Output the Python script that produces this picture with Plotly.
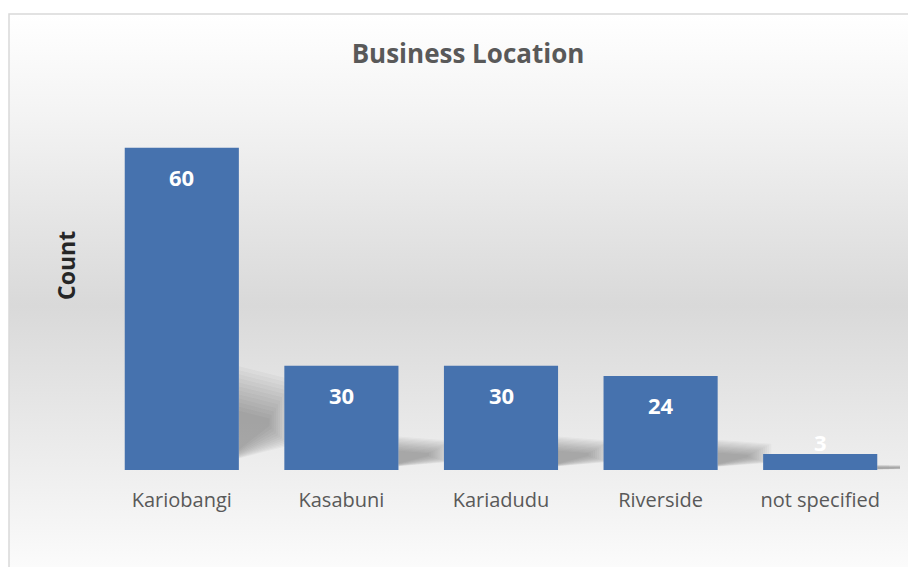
import base64
import plotly.graph_objects as go

# ---- data ----
categories = ["Kariobangi", "Kasabuni", "Kariadudu", "Riverside", "not specified"]
bar_heights = [60, 19.4, 19.4, 17.5, 3]          # heights as drawn
label_text = ["60", "30", "30", "24", "3"]        # data labels as printed
chart_title = "Business Location"
y_title = "Count"

OFF = 8                      # page offset of the figure inside the window
W, H = 916, 567
plot_left, plot_right = 102 - OFF, 900 - OFF
plot_top, plot_bottom = 94 - OFF, 470 - OFF
L, R, T, B = plot_left, W - plot_right, plot_top, H - plot_bottom
plot_w = plot_right - plot_left
plot_h = plot_bottom - plot_top
ymax = 70
bargap = 0.285
half_bar = (1 - bargap) / 2


def px_to_paper_x(px):      # px given in window coordinates
    return (px - OFF - L) / plot_w


def px_to_paper_y(py):
    return (plot_bottom - (py - OFF)) / plot_h


# background gradient for the chart area (white -> grey -> white)
svg = (
    '<svg xmlns="http://www.w3.org/2000/svg" width="100" height="100" preserveAspectRatio="none">'
    '<defs><linearGradient id="g" x1="0" y1="0" x2="0" y2="1">'
    '<stop offset="0" stop-color="#ffffff"/>'
    '<stop offset="0.18" stop-color="#f3f3f3"/>'
    '<stop offset="0.5" stop-color="#d9d9d9"/>'
    '<stop offset="0.78" stop-color="#eeeeee"/>'
    '<stop offset="1" stop-color="#ffffff"/>'
    '</linearGradient></defs>'
    '<rect x="0" y="0" width="100" height="100" fill="url(#g)"/></svg>'
)
svg_uri = "data:image/svg+xml;base64," + base64.b64encode(svg.encode()).decode()

fig = go.Figure()
fig.add_trace(
    go.Bar(
        x=categories,
        y=bar_heights,
        marker=dict(color="#4672ae", line=dict(width=0)),
        hoverinfo="skip",
    )
)

# soft perspective shadows to the right of each bar (derived from bar heights)
shapes = []
n_layers = 12
for i, h in enumerate(bar_heights):
    xr = i + half_bar
    for k in range(n_layers):
        grow = 1.4 - 0.6 * k / (n_layers - 1)
        path = (
            f"M {xr},{0.05 * h / grow} "
            f"L {xr},{0.23 * h * grow} "
            f"L {xr + 0.24 * grow},{0.20 * h * grow} "
            f"L {xr + 0.24 * grow},{0.11 * h / grow} Z"
        )
        shapes.append(
            dict(type="path", xref="x", yref="y", path=path,
                 fillcolor="rgba(40,40,40,0.03)", line=dict(width=0), layer="below")
        )

shapes.append(
    dict(
        type="rect", xref="paper", yref="paper",
        x0=px_to_paper_x(9), x1=px_to_paper_x(W + 30),
        y0=px_to_paper_y(H + 30), y1=px_to_paper_y(14),
        line=dict(color="#d9d9d9", width=1.5), fillcolor="rgba(0,0,0,0)",
        layer="below",
    )
)

annotations = []
for cat, h, txt in zip(categories, bar_heights, label_text):
    bar_px = h / ymax * plot_h
    annotations.append(
        dict(
            x=cat, y=h, xref="x", yref="y", text=txt, showarrow=False,
            yanchor="middle", yshift=-29 if bar_px > 60 else 12,
            font=dict(family="Open Sans", size=22, color="white", weight="bold"),
        )
    )

annotations.append(
    dict(
        x=px_to_paper_x(66), y=px_to_paper_y(266), xref="paper", yref="paper",
        xanchor="center", yanchor="middle",
        text=y_title, showarrow=False, textangle=-90,
        font=dict(family="Open Sans", size=23, color="#262626", weight="bold"),
    )
)

fig.update_layout(
    width=W, height=H,
    margin=dict(l=L, r=R, t=T, b=B, pad=0),
    paper_bgcolor="white",
    plot_bgcolor="rgba(0,0,0,0)",
    showlegend=False,
    bargap=bargap,
    title=dict(
        text=chart_title, x=(468 - OFF) / W, xanchor="center",
        y=1 - (54 - OFF) / H, yanchor="middle",
        font=dict(family="Open Sans", size=26, color="#595959", weight="bold"),
    ),
    xaxis=dict(
        range=[-0.5, len(categories) - 0.5],
        showgrid=False, zeroline=False, showline=False,
        ticks="outside", ticklen=12, tickcolor="rgba(0,0,0,0)",
        tickfont=dict(family="Open Sans", size=20, color="#595959"),
    ),
    yaxis=dict(range=[0, ymax], visible=False),
    annotations=annotations,
    images=[
        dict(
            source=svg_uri, xref="paper", yref="paper",
            x=px_to_paper_x(9), y=px_to_paper_y(14),
            sizex=(W + 30 - 9) / plot_w, sizey=(H + 30 - 14) / plot_h,
            xanchor="left", yanchor="top", sizing="stretch", layer="below",
        )
    ],
    shapes=shapes,
)

fig.write_html("out.html")
